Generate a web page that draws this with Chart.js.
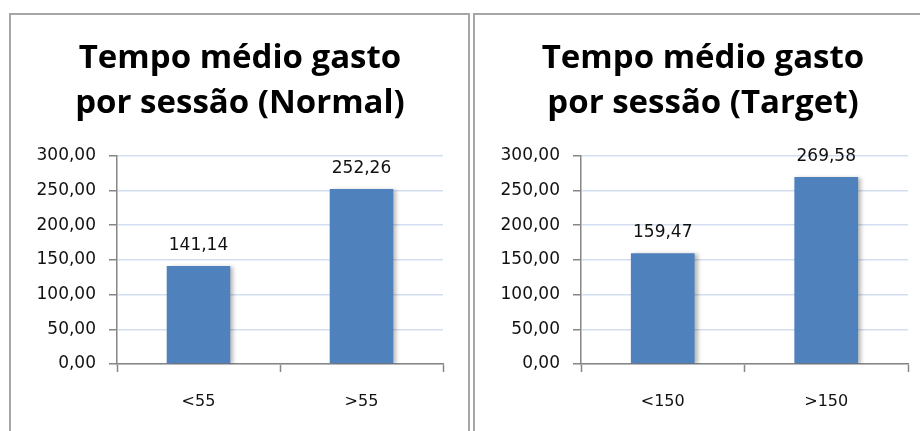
<!DOCTYPE html>
<html>
<head>
<meta charset="utf-8">
<script src="https://cdn.jsdelivr.net/npm/chart.js@4.4.1/dist/chart.umd.min.js"></script>
<style>
  html, body { margin: 0; padding: 0; background: #ffffff; }
  body { width: 920px; height: 431px; position: relative; overflow: hidden; }
  .panel { position: absolute; top: 13px; border: 2px solid #a6a6a6; border-bottom: none; box-sizing: border-box; }
  #p1 { left: 9px; width: 461px; height: 430px; }
  #p2 { left: 473px; width: 460px; height: 430px; }
  canvas { position: absolute; }
  #c1 { left: 11px; top: 15px; }
  #c2 { left: 475px; top: 15px; }
</style>
</head>
<body>
<div class="panel" id="p1"></div>
<div class="panel" id="p2"></div>
<canvas id="c1" width="455" height="416"></canvas>
<canvas id="c2" width="445" height="416"></canvas>
<script>
// ---- data ----
const normalTitle = ['Tempo médio gasto', 'por sessão (Normal)'];
const normalCategories = ['<55', '>55'];
const normalValues = [141.14, 252.26];

const targetTitle = ['Tempo médio gasto', 'por sessão (Target)'];
const targetCategories = ['<150', '>150'];
const targetValues = [159.47, 269.58];

const yMin = 0;
const yMax = 300;
const yStep = 50;

// ---- helpers ----
const fmt = v => Number(v).toFixed(2).replace('.', ',');
const AXIS = '#868686';
const GRID = '#d3def0';
const BAR = '#4f81bd';
const TXT = '#111111';

const shadowPlugin = {
  id: 'barShadow',
  beforeDatasetDraw(chart) {
    const ctx = chart.ctx;
    ctx.save();
    ctx.shadowColor = 'rgba(0,0,0,0.28)';
    ctx.shadowBlur = 4;
    ctx.shadowOffsetX = 3;
    ctx.shadowOffsetY = 1;
  },
  afterDatasetDraw(chart) {
    chart.ctx.restore();
  }
};

const labelPlugin = {
  id: 'valueLabels',
  afterDatasetsDraw(chart) {
    const ctx = chart.ctx;
    ctx.save();
    ctx.font = '17px "DejaVu Sans"';
    ctx.fillStyle = TXT;
    ctx.textAlign = 'center';
    ctx.textBaseline = 'alphabetic';
    chart.data.datasets.forEach((ds, di) => {
      const meta = chart.getDatasetMeta(di);
      meta.data.forEach((bar, i) => {
        ctx.fillText(fmt(ds.data[i]), bar.x, bar.y - 16);
      });
    });
    ctx.restore();
  }
};

function makeChart(id, title, categories, values, padLeft, padRight, yAxisWidth) {
  return new Chart(document.getElementById(id), {
    type: 'bar',
    data: {
      labels: categories,
      datasets: [{
        data: values,
        backgroundColor: BAR,
        borderWidth: 0,
        categoryPercentage: 1,
        barPercentage: 0.39
      }]
    },
    options: {
      responsive: false,
      animation: false,
      devicePixelRatio: 1,
      layout: { padding: { left: padLeft, right: padRight, top: 0, bottom: 0 } },
      plugins: {
        legend: { display: false },
        tooltip: { enabled: false },
        title: {
          display: true,
          text: title,
          color: '#000000',
          font: { family: 'Open Sans', weight: 'bold', size: 33, lineHeight: 1.36 },
          padding: { top: 21, bottom: 30 }
        }
      },
      scales: {
        x: {
          offset: true,
          border: { display: true, color: AXIS, width: 1.5 },
          grid: {
            display: true,
            offset: true,
            drawOnChartArea: false,
            drawTicks: true,
            tickLength: 8,
            tickColor: AXIS,
            tickWidth: 1.5
          },
          ticks: { color: TXT, font: { family: 'DejaVu Sans', size: 16 }, padding: 20, maxRotation: 0 },
          afterFit(scale) { scale.height = 67; }
        },
        y: {
          min: yMin,
          max: yMax,
          border: { display: true, color: AXIS, width: 1.5 },
          grid: {
            color: GRID,
            lineWidth: 1.5,
            drawTicks: true,
            tickLength: 8,
            tickColor: AXIS,
            tickWidth: 1.5
          },
          ticks: {
            stepSize: yStep,
            color: TXT,
            font: { family: 'DejaVu Sans', size: 17 },
            padding: 13,
            callback: v => fmt(v)
          },
          afterFit(scale) { scale.width = yAxisWidth; }
        }
      }
    },
    plugins: [shadowPlugin, labelPlugin]
  });
}

makeChart('c1', normalTitle, normalCategories, normalValues, 26, 23, 80);
makeChart('c2', targetTitle, targetCategories, targetValues, 23, 12, 83);
</script>
</body>
</html>
